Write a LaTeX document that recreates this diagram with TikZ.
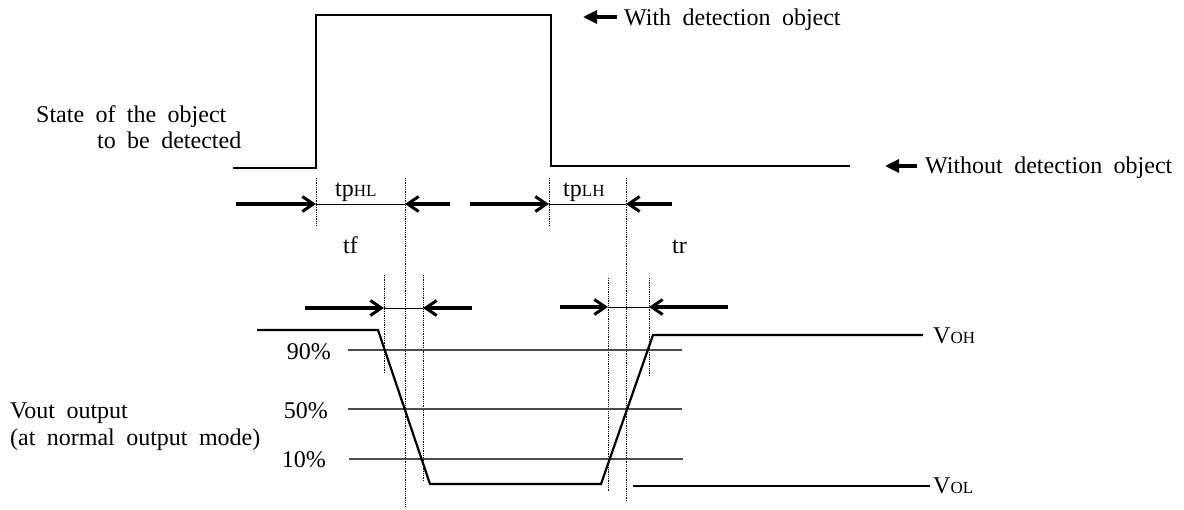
\documentclass[tikz,border=0pt]{standalone}
\usepackage{fontspec}
\setmainfont{Liberation Serif}[WordSpace=1.9]
\usetikzlibrary{arrows.meta}
\newcommand{\smallcap}[1]{{\fontsize{17}{20}\selectfont #1}}
\tikzset{
  lbl/.style={inner sep=0pt, font=\fontsize{24}{28}\selectfont},
  wave/.style={line width=2.2pt, line join=miter},
  thresh/.style={line width=1.8pt, black!70},
  guide/.style={line width=0.8pt, densely dotted},
  span/.style={line width=0.9pt},
  dimarrow/.style={line width=3.2pt, -{Straight Barb[length=11pt,width=15pt,line width=3pt]}},
  tagarrow/.style={line width=3.2pt, -{Triangle[length=14pt,width=13pt]}}
}
\begin{document}
\begin{tikzpicture}[x=1pt,y=-1pt]
\useasboundingbox (0,0) rectangle (1184,509);
% ---- input state waveform
\draw[wave] (233,168) -- (316,168) -- (316,15) -- (551,15) -- (551,166) -- (850,166);
\node[lbl, anchor=base west] (state1) at (36,122) {State of the object};
\node[lbl, anchor=base west] (state2) at (97,148) {to be detected};
\coordinate (wtail) at (617,17);
\coordinate (wtip) at (583,17);
\draw[tagarrow] (wtail) -- (wtip);
\node[lbl, anchor=base west] (with) at (624,25) {With detection object};
\coordinate (wotail) at (917,166);
\coordinate (wotip) at (885,166);
\draw[tagarrow] (wotail) -- (wotip);
\node[lbl, anchor=base west] (without) at (925,173) {Without detection object};
% ---- vertical guides
\draw[guide] (316,178) -- (316,225);
\draw[guide] (405,178) -- (405,507);
\draw[guide] (549,178) -- (549,225);
\draw[guide] (626,178) -- (626,502);
\draw[guide] (384,275) -- (384,373);
\draw[guide] (423,275) -- (423,482);
\draw[guide] (608,278) -- (608,491);
\draw[guide] (649,278) -- (649,377);
% ---- tpHL
\coordinate (hlA) at (316,204); \coordinate (hlB) at (405,204);
\draw[span] (hlA) -- (hlB);
\draw[dimarrow] (236,204) -- (hlA);
\draw[dimarrow] (450,204) -- (hlB);
\node[lbl, anchor=base west] (tphl) at (335,196) {tp\smallcap{HL}};
% ---- tpLH
\coordinate (lhA) at (549,204); \coordinate (lhB) at (626,204);
\draw[span] (lhA) -- (lhB);
\draw[dimarrow] (470,204) -- (lhA);
\draw[dimarrow] (672,204) -- (lhB);
\node[lbl, anchor=base west] (tplh) at (563,196) {tp\smallcap{LH}};
% ---- tf / tr labels
\node[lbl, anchor=base west] (tf) at (343,253) {tf};
\node[lbl, anchor=base west] (tr) at (672,253) {tr};
% ---- tf span
\coordinate (tfA) at (384,308); \coordinate (tfB) at (423,308);
\draw[span] (tfA) -- (tfB);
\draw[dimarrow] (305,308) -- (tfA);
\draw[dimarrow] (472,308) -- (tfB);
% ---- tr span
\coordinate (trA) at (608,307); \coordinate (trB) at (649,307);
\draw[span] (trA) -- (trB);
\draw[dimarrow] (560,307) -- (trA);
\draw[dimarrow] (728,307) -- (trB);
% ---- thresholds
\draw[thresh] (348,350) -- (682,350);
\draw[thresh] (348,409) -- (682,409);
\draw[thresh] (349,459) -- (683,459);
\node[lbl, anchor=base east] (p90) at (331,359) {90\%};
\node[lbl, anchor=base east] (p50) at (328,418) {50\%};
\node[lbl, anchor=base east] (p10) at (326,467) {10\%};
% ---- output waveform
\draw[wave] (257,330) -- (378,330) -- (430,484) -- (601,484) -- (653,335) -- (923,335);
\draw[wave] (633,486) -- (930,486);
\node[lbl, anchor=base west] (voh) at (933,343) {V\smallcap{OH}};
\node[lbl, anchor=base west] (vol) at (933,493) {V\smallcap{OL}};
\node[lbl, anchor=base west] (vout1) at (10,418) {Vout output};
\node[lbl, anchor=base west] (vout2) at (10,445) {(at normal output mode)};
\end{tikzpicture}
\end{document}
